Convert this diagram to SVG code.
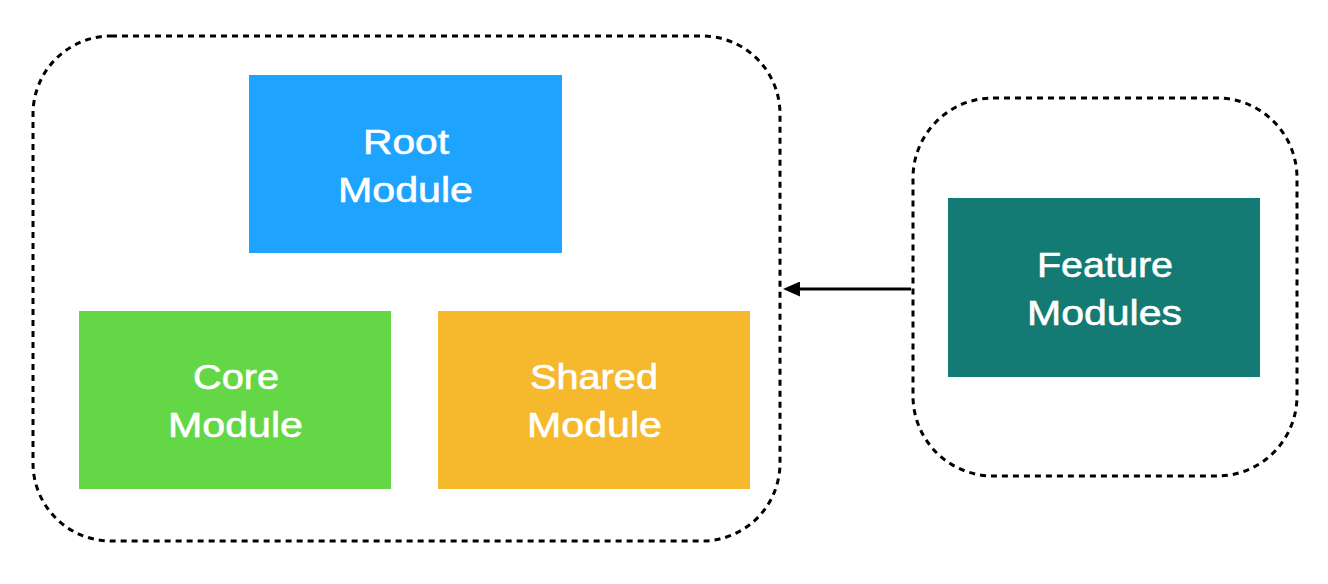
<svg xmlns="http://www.w3.org/2000/svg" width="1328" height="584" viewBox="0 0 1328 584">
<style>
.grp{fill:none;stroke:#000;stroke-width:3;stroke-dasharray:6 5}
.lbl{fill:#fff;stroke:#fff;stroke-width:0.6;font-family:"Liberation Sans",Arial,sans-serif;font-size:35px;text-anchor:middle}
.conn{stroke:#000;stroke-width:3;fill:none}
</style>
<defs>
<marker id="ah" viewBox="0 0 17 15" refX="1" refY="7.5" markerWidth="17" markerHeight="15" orient="auto" markerUnits="userSpaceOnUse">
<path d="M0,0 L17,7.5 L0,15 z" fill="#000"/>
</marker>
</defs>
<rect width="1328" height="584" fill="#fff"/>
<g id="group-main"><rect class="grp" x="33" y="36" width="747" height="505" rx="78" ry="78"/></g>
<g id="group-feature"><rect class="grp" x="913" y="98" width="384" height="378" rx="80" ry="80"/></g>
<g id="root"><rect x="249" y="75" width="313" height="178" fill="#1EA3FE"/><text class="lbl" x="406" y="154" textLength="86" lengthAdjust="spacingAndGlyphs">Root</text><text class="lbl" x="405.5" y="202" textLength="135" lengthAdjust="spacingAndGlyphs">Module</text></g>
<g id="core"><rect x="79" y="311" width="312" height="178" fill="#63D745"/><text class="lbl" x="236" y="389" textLength="86" lengthAdjust="spacingAndGlyphs">Core</text><text class="lbl" x="235.5" y="437" textLength="135" lengthAdjust="spacingAndGlyphs">Module</text></g>
<g id="shared"><rect x="438" y="311" width="312" height="178" fill="#F6B82C"/><text class="lbl" x="594" y="389" textLength="128" lengthAdjust="spacingAndGlyphs">Shared</text><text class="lbl" x="594.5" y="437" textLength="135" lengthAdjust="spacingAndGlyphs">Module</text></g>
<g id="feature"><rect x="948" y="198" width="312" height="179" fill="#137B73"/><text class="lbl" x="1105" y="277" textLength="136" lengthAdjust="spacingAndGlyphs">Feature</text><text class="lbl" x="1104.5" y="325" textLength="155" lengthAdjust="spacingAndGlyphs">Modules</text></g>
<g id="connectors"><line class="conn" x1="911" y1="289" x2="799" y2="289" marker-end="url(#ah)"/></g>
</svg>
